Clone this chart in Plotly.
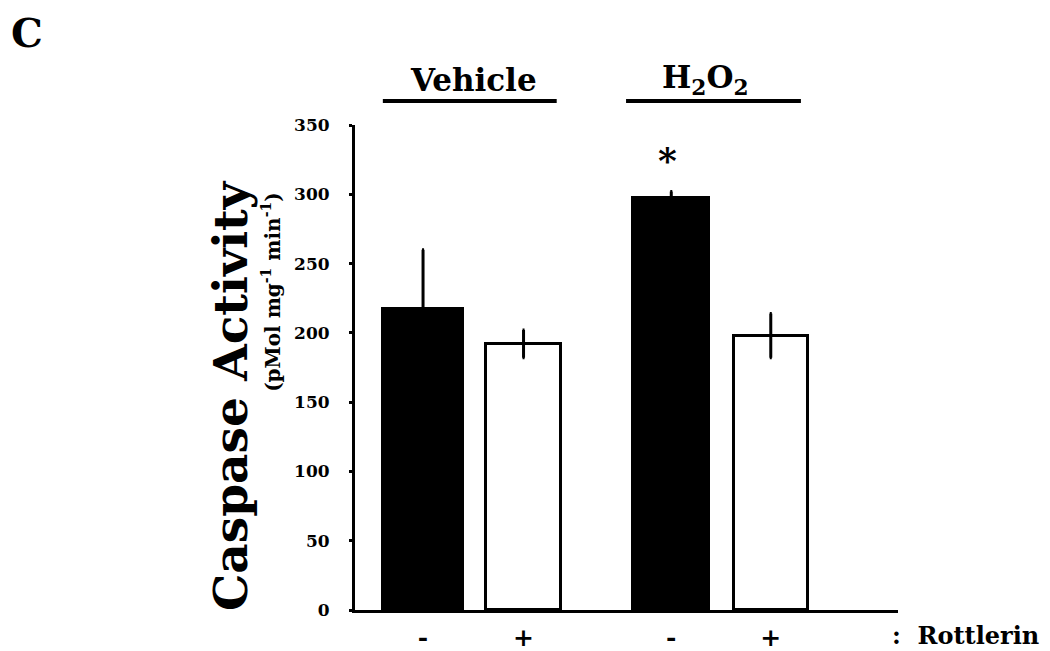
import plotly.graph_objects as go

# ---- data ----
conditions = ["Vehicle -", "Vehicle +", "H2O2 -", "H2O2 +"]
rottlerin_labels = ["-", "+", "-", "+"]
x_pos = [0, 1, 2.47, 3.46]
caspase = [217, 192, 297, 198]
caspase_err = [43, 10, 5, 16]
bar_colors = ["black", "white", "black", "white"]
y_ticks = [0, 50, 100, 150, 200, 250, 300, 350]

FONT = "DejaVu Serif"

fig = go.Figure()
fig.add_trace(go.Bar(
    x=x_pos, y=caspase,
    width=[0.8, 0.74, 0.76, 0.74],
    marker=dict(color=bar_colors, line=dict(color="black", width=3)),
    error_y=dict(type="data", array=caspase_err, visible=True,
                 color="black", thickness=3, width=1),
    hoverinfo="y", showlegend=False,
))

# page body has an 8px margin, so the figure is reduced by 8px
fig.update_layout(
    width=1042, height=643,
    margin=dict(l=347, r=152, t=117, b=41),
    paper_bgcolor="white", plot_bgcolor="white",
    font=dict(family=FONT, color="black"),
    bargap=0,
)
fig.update_xaxes(
    range=[-0.677, 4.726], showgrid=False, zeroline=False, automargin=False,
    showline=True, linecolor="black", linewidth=3,
    tickvals=x_pos, ticktext=rottlerin_labels, ticks="",
    tickfont=dict(family=FONT, size=25, color="black", weight="bold"),
    ticklabelstandoff=3,
)
fig.update_yaxes(
    range=[0, 350], showgrid=False, zeroline=False, automargin=False,
    showline=True, linecolor="black", linewidth=3,
    tickvals=y_ticks, ticks="outside", ticklen=3, tickwidth=3, tickcolor="black",
    tickfont=dict(family=FONT, size=17, color="black", weight="bold"),
    ticklabelstandoff=16,
)

ann = []
ann.append(dict(text="<b>Caspase Activity</b>", xref="paper", yref="paper",
                x=-0.2302, y=0.441, textangle=-90, showarrow=False,
                xanchor="center", yanchor="middle",
                font=dict(family=FONT, size=47, color="black")))
ann.append(dict(text="<b>(pMol mg<sup>-1</sup> min<sup>-1</sup>)</b>", xref="paper", yref="paper",
                x=-0.1547, y=0.656, textangle=-90, showarrow=False,
                xanchor="center", yanchor="middle",
                font=dict(family=FONT, size=20, color="black")))
ann.append(dict(text="<b>Vehicle</b>", xref="x", yref="paper",
                x=0.5, y=1.093, showarrow=False, xanchor="center", yanchor="middle",
                font=dict(family=FONT, size=31, color="black")))
ann.append(dict(text="<b>H<sub>2</sub>O<sub>2</sub></b>", xref="x", yref="paper",
                x=2.81, y=1.093, showarrow=False, xanchor="center", yanchor="middle",
                font=dict(family=FONT, size=31, color="black")))
ann.append(dict(text="<b>*</b>", xref="x", yref="paper",
                x=2.43, y=0.928, showarrow=False, xanchor="center", yanchor="middle",
                font=dict(family=FONT, size=36, color="black")))
ann.append(dict(text="<b>:  Rottlerin</b>", xref="paper", yref="paper",
                x=0.985, y=-0.0536, xanchor="left", yanchor="middle", showarrow=False,
                font=dict(family=FONT, size=24, color="black")))
ann.append(dict(text="<b>C</b>", xref="paper", yref="paper",
                x=-0.637, y=1.19, xanchor="left", yanchor="middle", showarrow=False,
                font=dict(family=FONT, size=40, color="black")))
fig.update_layout(annotations=ann)

fig.add_shape(type="line", xref="x", yref="paper", x0=-0.4, x1=1.33, y0=1.0495, y1=1.0495,
              line=dict(color="black", width=4))
fig.add_shape(type="line", xref="x", yref="paper", x0=2.02, x1=3.76, y0=1.0495, y1=1.0495,
              line=dict(color="black", width=4))

fig.write_html("out.html")
